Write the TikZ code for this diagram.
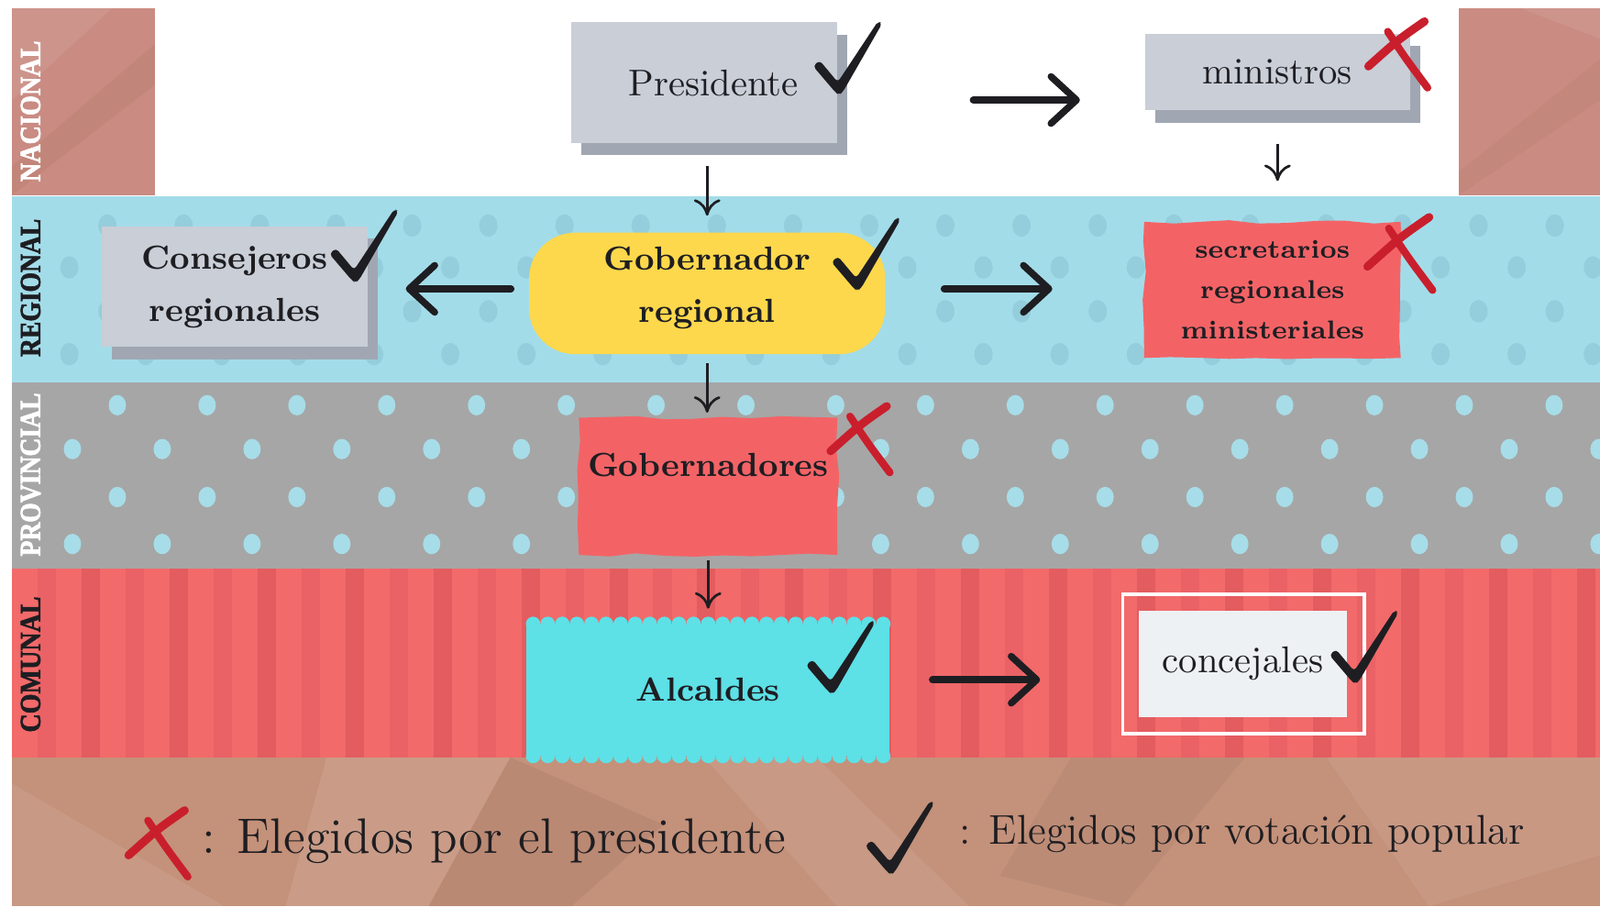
\documentclass[tikz,border=0pt]{standalone}
\usepackage{fontspec}
\usepackage{graphicx}
\newfontfamily\tierfont{Liberation Serif}[BoldFeatures={FakeBold=2.2}]
\usetikzlibrary{arrows.meta, positioning, calc, shadows, decorations.pathmorphing}
\definecolor{cink}{HTML}{1E1E22}
\definecolor{cmark}{HTML}{C91F2C}
\definecolor{cslate}{HTML}{C9CED7}
\definecolor{cshade}{HTML}{A0A7B2}
\definecolor{csky}{HTML}{A3DCE9}
\definecolor{cskydot}{HTML}{94CDDB}
\definecolor{cstone}{HTML}{A6A6A6}
\definecolor{cstonedot}{HTML}{A7DDE8}
\definecolor{ccoral}{HTML}{F26A6A}
\definecolor{ccoraldk}{HTML}{E35C5F}
\definecolor{ccoralmd}{HTML}{EA6265}
\definecolor{ctorn}{HTML}{F36366}
\definecolor{csun}{HTML}{FDD84C}
\definecolor{caqua}{HTML}{5DE0E6}
\definecolor{cpaper}{HTML}{C4917A}
\definecolor{crose}{HTML}{C98B82}
\definecolor{cnote}{HTML}{EEF1F4}
\pgfdeclarelayer{back}
\pgfdeclarelayer{paper}
\pgfsetlayers{back,paper,main}
\tikzset{
  every picture/.style={line width=1pt},
  govbox/.style={fill=cslate, drop shadow={shadow xshift=0.10cm, shadow yshift=-0.12cm, fill=cshade, opacity=1}, minimum width=2.6cm, minimum height=1.18cm, align=center, inner sep=0pt, text=cink},
  lightfont/.style={font=\fontsize{10.4}{12}\selectfont},
  boldfont/.style={font=\fontsize{9.3}{14.6}\selectfont\bfseries},
  torn/.style={minimum width=2.5cm, minimum height=1.32cm, align=center, inner sep=0pt, text=cink},
  tornfill/.style={fill=ctorn, decorate, decoration={random steps, segment length=8pt, amplitude=0.5pt}},
  sunbox/.style={fill=csun, rounded corners=0.45cm, minimum width=3.49cm, minimum height=1.19cm, align=center, inner sep=0pt, text=cink},
  aquabox/.style={fill=caqua, minimum width=3.56cm, minimum height=1.28cm, inner sep=0pt, text=cink},
  notebox/.style={fill=cnote, minimum width=2.04cm, minimum height=1.05cm, inner sep=0pt, text=cink},
  tier/.style={rotate=90, inner sep=0pt},
  keytext/.style={anchor=base west, inner sep=0pt, text=cink},
  bigarrow/.style={-{Straight Barb[length=2.5mm, width=4.6mm, round]}, line width=1.9pt, line cap=round, draw=cink},
  thinarrow/.style={-{Computer Modern Rightarrow[length=1.6mm, width=2.6mm]}, line width=0.7pt, draw=cink},
  okmark/.pic={
    \fill[cink, rounded corners=1pt] (-0.252,0.232) -- (-0.188,0.288) -- (-0.010,0.075) -- (0.385,0.672)
      -- (0.425,0.650) -- (0.040,-0.021) -- (0.003,-0.050) -- (-0.032,-0.026) -- cycle;
  },
  nomark/.pic={
    \draw[cmark, line width=2.3pt, line cap=round] (0.26,0.32) .. controls (0.0,0.14) .. (-0.29,-0.12);
    \draw[cmark, line width=2.1pt, line cap=round] (-0.10,0.22) .. controls (0.08,-0.05) .. (0.29,-0.33);
  },
}

\begin{document}
\begin{tikzpicture}
  \useasboundingbox (0,0) rectangle (15.68,8.88);
  % ---------- background bands ----------
  \begin{pgfonlayer}{back}
    \fill[white] (0,0) rectangle (15.68,8.88);
    \fill[crose] (0.12,6.97) rectangle (1.52,8.80);
    \fill[crose] (14.30,6.97) rectangle (15.68,8.80);
    \fill[brown!70!black, opacity=0.10] (0.12,7.25) -- (1.52,8.45) -- (1.52,8.05) -- (0.12,6.97) -- cycle;
    \fill[white, opacity=0.08] (0.12,8.80) -- (1.1,8.80) -- (0.12,7.9) -- cycle;
    \fill[brown!70!black, opacity=0.08] (14.30,7.2) -- (15.68,8.3) -- (15.68,7.9) -- (14.30,6.97) -- cycle;
    \fill[white, opacity=0.08] (14.9,8.80) -- (15.68,8.80) -- (15.68,8.5) -- cycle;
    % regional
    \fill[csky] (0.12,5.13) rectangle (15.68,6.96);
    \foreach \y/\xa in {6.67/1.053, 6.26/0.68, 5.83/1.053, 5.41/0.68}
      \foreach \k in {0,...,20}
        \fill[cskydot] (\xa+0.7465*\k,\y) ellipse[x radius=0.09, y radius=0.11];
    % provincial
    \fill[cstone] (0.12,3.31) rectangle (15.68,5.13);
    \foreach \y/\xa in {4.91/1.15, 4.48/0.71, 4.01/1.15, 3.55/0.71}
      \foreach \k in {0,...,17}
        \fill[cstonedot] (\xa+0.88*\k,\y) ellipse[x radius=0.085, y radius=0.10];
    % comunal
    \fill[ccoral] (0.12,1.46) rectangle (15.68,3.31);
    \foreach \k in {1,3,...,35}
      \fill[ccoralmd] (0.027+0.431*\k-0.09,1.46) rectangle ++(0.18,1.85);
    \foreach \k in {2,4,...,36}
      \fill[ccoraldk] (0.027+0.431*\k-0.09,1.46) rectangle ++(0.18,1.85);
    % paper
    \fill[cpaper] (0.12,0) rectangle (15.68,1.46);
    \fill[white, opacity=0.08] (0.12,0) -- (0.12,1.2) -- (2.2,0) -- cycle;
    \fill[white, opacity=0.10] (3.2,1.46) -- (5.0,1.46) -- (4.2,0) -- (2.8,0) -- cycle;
    \fill[black, opacity=0.05] (5.0,1.46) -- (6.5,0.8) -- (5.6,0) -- (4.2,0) -- cycle;
    \fill[white, opacity=0.08] (6.9,1.46) -- (8.2,0) -- (9.5,0) -- (8.0,1.46) -- cycle;
    \fill[black, opacity=0.04] (10.5,1.46) -- (12.2,1.46) -- (11.0,0) -- (9.8,0.3) -- cycle;
    \fill[white, opacity=0.07] (13,1.46) -- (15.68,1.46) -- (15.68,0.5) -- (14,0) -- cycle;
  \end{pgfonlayer}
  % ---------- level names ----------
  \node[tier, text=white] (tnac) at (0.30,7.79) {\resizebox{1.38cm}{0.19cm}{\tierfont\bfseries NACIONAL}};
  \node[tier, text=cink] (treg) at (0.30,6.06) {\resizebox{1.35cm}{0.19cm}{\tierfont\bfseries REGIONAL}};
  \node[tier, text=white] (tpro) at (0.30,4.23) {\resizebox{1.60cm}{0.19cm}{\tierfont\bfseries PROVINCIAL}};
  \node[tier, text=cink] (tcom) at (0.30,2.37) {\resizebox{1.33cm}{0.19cm}{\tierfont\bfseries COMUNAL}};
  % ---------- authorities ----------
  \node[govbox, lightfont] (pres) at (6.90,8.07) {\hspace{0.18cm}Presidente};
  \node[govbox, lightfont, minimum height=0.75cm] (mini) at (12.52,8.175) {ministros};
  \node[govbox, boldfont] (cons) at (2.30,6.07) {Consejeros\\regionales};
  \node[sunbox, boldfont] (gob) at (6.93,6.005) {Gobernador\\regional\\[-0.345cm]};
  \node[torn, font=\fontsize{7.2}{11.2}\selectfont\bfseries] (secr) at (12.47,6.04) {secretarios\\regionales\\ministeriales};
  \node[torn, boldfont, minimum width=2.52cm, minimum height=1.33cm, text height=0.25cm, text depth=0.45cm] (gobs) at (6.94,4.115) {Gobernadores};
  \node[aquabox, boldfont] (alca) at (6.94,2.12) {Alcaldes\hspace{0.2cm}};
  \node[notebox, lightfont] (conc) at (12.18,2.375) {concejales};
  \begin{pgfonlayer}{paper}
    \fill[tornfill] (secr.south west) rectangle (secr.north east);
    \fill[tornfill] (gobs.south west) rectangle (gobs.north east);
  \end{pgfonlayer}
  \foreach \i in {0,...,24} {
    \fill[caqua] ($(alca.north west)!{(\i+0.5)/25}!(alca.north east)$) circle[radius=0.0712];
    \fill[caqua] ($(alca.south west)!{(\i+0.5)/25}!(alca.south east)$) circle[radius=0.0712];
  }
  \draw[white, line width=1pt] ([shift={(-0.15,-0.15)}]conc.south west) rectangle ([shift={(0.16,0.15)}]conc.north east);
  % ---------- connectors ----------
  \draw[bigarrow, shorten <=1.33cm, shorten >=0.63cm] ([yshift=-0.17cm]pres.east) -- ([yshift=-0.17cm]pres.east -| mini.west);
  \draw[bigarrow, shorten <=0.17cm, shorten >=0.37cm] ([yshift=0.045cm]gob.west) -- ([yshift=0.045cm]gob.west -| cons.east);
  \draw[bigarrow, shorten <=0.57cm, shorten >=0.90cm] ([yshift=0.045cm]gob.east) -- ([yshift=0.045cm]gob.east -| secr.west);
  \draw[bigarrow, shorten <=0.41cm, shorten >=0.96cm] ([yshift=0.10cm]alca.east) -- ([yshift=0.10cm]alca.east -| conc.west);
  \draw[thinarrow, shorten <=0.22cm, shorten >=0.16cm] (gob.north |- pres.south) -- (gob.north);
  \draw[thinarrow, shorten <=0.32cm, shorten >=0.40cm] (mini.south) -- (mini.south |- secr.north);
  \draw[thinarrow, shorten <=0.08cm, shorten >=0.05cm] (gob.south) -- (gob.south |- gobs.north);
  \draw[thinarrow, shorten <=0.05cm, shorten >=0.15cm] (gobs.south) -- (gobs.south |- alca.north);
  % ---------- marks ----------
  \pic at (8.22,8.00) {okmark};
  \pic at (3.48,6.16) {okmark};
  \pic at (8.40,6.08) {okmark};
  \pic at (8.15,2.13) {okmark};
  \pic at (13.28,2.23) {okmark};
  \pic at (13.70,8.35) {nomark};
  \pic[scale=1.1] at (13.72,6.40) {nomark};
  \pic at (8.43,4.58) {nomark};
  % ---------- key ----------
  \pic at (1.55,0.62) {nomark};
  \node[keytext, font=\fontsize{13.9}{16}\selectfont] (keyx) at (1.97,0.52) {: Elegidos por el presidente};
  \pic at (8.73,0.36) {okmark};
  \node[keytext, font=\fontsize{11.6}{14}\selectfont] (keyv) at (9.40,0.61) {: Elegidos por votación popular};
\end{tikzpicture}
\end{document}
